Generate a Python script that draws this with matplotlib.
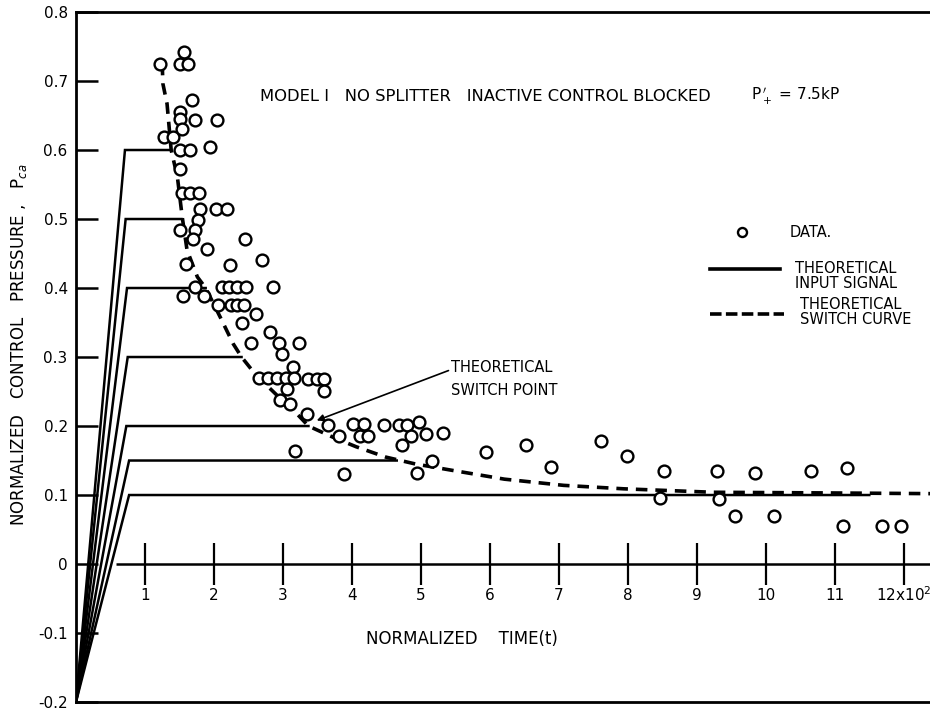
import matplotlib

matplotlib.use("Agg")
import matplotlib.pyplot as plt

plt.rcParams["font.family"] = ["DejaVu Sans"]

# measured data points (normalized time x100, normalized control pressure)
DATA_T = [
    1.22, 1.56, 1.51, 1.63, 1.68, 1.51, 1.51, 1.73, 2.04, 1.27, 1.41, 1.53,
    1.51, 1.65, 1.94, 1.51, 1.53, 1.65, 1.79, 1.80, 2.03, 2.19, 1.77, 1.51,
    1.73, 1.70, 1.90, 2.45, 1.60, 2.23, 2.69, 1.55, 1.73, 1.86, 2.11, 2.22,
    2.34, 2.47, 2.85, 2.06, 2.24, 2.33, 2.43, 2.40, 2.61, 2.81, 2.54, 2.95,
    2.98, 3.23, 3.15, 2.65, 2.79, 2.91, 3.05, 3.16, 3.37, 3.49, 3.60, 3.60,
    3.06, 2.96, 3.10, 3.35, 3.66, 3.82, 4.02, 4.17, 4.12, 4.24, 4.46, 4.68,
    4.80, 4.97, 4.85, 4.73, 5.08, 5.32, 3.18, 3.88, 4.94, 5.16, 5.94, 6.53,
    6.89, 7.61, 7.99, 8.52, 8.47, 9.29, 9.32, 9.84, 9.56, 10.12, 10.65, 11.17,
    11.12, 11.69, 11.96,
]
DATA_P = [
    0.725, 0.742, 0.725, 0.725, 0.673, 0.655, 0.645, 0.644, 0.644, 0.619, 0.619, 0.631,
    0.600, 0.600, 0.605, 0.573, 0.538, 0.538, 0.538, 0.514, 0.514, 0.514, 0.498, 0.484,
    0.484, 0.471, 0.457, 0.471, 0.435, 0.433, 0.440, 0.389, 0.402, 0.389, 0.402, 0.402,
    0.402, 0.402, 0.402, 0.375, 0.376, 0.376, 0.376, 0.350, 0.363, 0.336, 0.320, 0.321,
    0.305, 0.321, 0.286, 0.270, 0.270, 0.270, 0.270, 0.270, 0.268, 0.268, 0.268, 0.251,
    0.254, 0.237, 0.232, 0.217, 0.202, 0.186, 0.203, 0.203, 0.186, 0.186, 0.202, 0.202,
    0.202, 0.206, 0.186, 0.172, 0.189, 0.190, 0.164, 0.131, 0.132, 0.149, 0.162, 0.173,
    0.140, 0.178, 0.157, 0.135, 0.096, 0.135, 0.094, 0.132, 0.070, 0.070, 0.135, 0.139,
    0.055, 0.055, 0.055,
]

# theoretical input signals: ramp from (0, -0.2) to corner, then flat to the switch curve
SIGNAL_LEVELS = [0.6, 0.5, 0.4, 0.3, 0.2, 0.15, 0.1]
SIGNAL_CORNER_T = [0.71, 0.72, 0.74, 0.75, 0.73, 0.77, 0.77]
SIGNAL_END_T = [1.36, 1.53, 1.88, 2.40, 3.37, 4.65, 11.5]
SIGNAL_START = (0.0, -0.2)

# theoretical switch curve
SWITCH_T = [1.25, 1.26, 1.32, 1.38, 1.47, 1.54, 1.61, 1.76, 1.88, 2.09, 2.28, 2.40,
            2.60, 2.94, 3.20, 3.37, 3.72, 4.06, 4.49, 4.92, 5.44, 6.21, 7.07, 7.94,
            9.23, 10.95, 12.4]
SWITCH_P = [0.725, 0.696, 0.667, 0.600, 0.561, 0.503, 0.455, 0.416, 0.400, 0.358, 0.319, 0.300,
            0.275, 0.242, 0.218, 0.200, 0.184, 0.170, 0.155, 0.145, 0.136, 0.123, 0.114, 0.109,
            0.104, 0.103, 0.102]

Y_TICKS = [-0.2, -0.1, 0, 0.1, 0.2, 0.3, 0.4, 0.5, 0.6, 0.7, 0.8]
Y_TICK_LABELS = ["-0.2", "-0.1", "0", "0.1", "0.2", "0.3", "0.4", "0.5", "0.6", "0.7", "0.8"]
X_TICKS = [1, 2, 3, 4, 5, 6, 7, 8, 9, 10, 11, 12]
X_TICK_LABELS = ["1", "2", "3", "4", "5", "6", "7", "8", "9", "10", "11", "12x10$^2$"]

fig = plt.figure(figsize=(9.3, 7.19), dpi=100)
ax = fig.add_axes([0.0817, 0.0236, 0.9183, 0.9597])
ax.set_xlim(0, 12.38)
ax.set_ylim(-0.2, 0.8)

for spine in ("left", "top", "bottom"):
    ax.spines[spine].set_linewidth(2.0)
ax.spines["right"].set_visible(False)

ax.set_yticks(Y_TICKS)
ax.set_yticklabels(Y_TICK_LABELS, fontsize=11)
ax.tick_params(axis="y", direction="in", length=16, width=1.8, pad=6)
ax.set_xticks([])

# zero line with its own tick crosses and labels
ax.hlines(0, 0.58, 12.38, color="black", linewidth=1.8)
ax.vlines(X_TICKS, -0.03, 0.03, color="black", linewidth=1.6)
for t, lab in zip(X_TICKS, X_TICK_LABELS):
    ax.text(t, -0.045, lab, ha="center", va="center", fontsize=11)
ax.text(5.6, -0.108, "NORMALIZED    TIME(t)", ha="center", va="center", fontsize=12)

# input signals
for level, corner, end in zip(SIGNAL_LEVELS, SIGNAL_CORNER_T, SIGNAL_END_T):
    ax.plot([SIGNAL_START[0], corner, end], [SIGNAL_START[1], level, level],
            color="black", linewidth=1.8, solid_joinstyle="miter")

# switch curve
ax.plot(SWITCH_T, SWITCH_P, color="black", linewidth=2.6, linestyle=(0, (3.2, 2.2)))

# data
ax.plot(DATA_T, DATA_P, linestyle="none", marker="o", markersize=8.5,
        markerfacecolor="white", markeredgecolor="black", markeredgewidth=1.7)

# annotations
ax.text(2.67, 0.677, "MODEL I   NO SPLITTER   INACTIVE CONTROL BLOCKED",
        ha="left", va="center", fontsize=11.8)
ax.text(9.78, 0.677, "P$_+^{\\,\\prime}$ = 7.5kP", ha="left", va="center", fontsize=11)

ax.annotate("THEORETICAL\nSWITCH POINT", xy=(3.49, 0.208), xytext=(5.44, 0.268),
            ha="left", va="center", fontsize=10.5, linespacing=1.7,
            arrowprops=dict(arrowstyle="-|>", color="black", linewidth=1.2,
                            mutation_scale=10, shrinkA=0, shrinkB=0,
                            relpos=(0.0, 0.75)))

# hand-drawn legend
ax.plot([9.65], [0.481], linestyle="none", marker="o", markersize=6.5,
        markerfacecolor="white", markeredgecolor="black", markeredgewidth=1.7)
ax.text(10.35, 0.481, "DATA.", ha="left", va="center", fontsize=10.5)
ax.plot([9.19, 10.2], [0.428, 0.428], color="black", linewidth=2.6)
ax.text(10.42, 0.418, "THEORETICAL\nINPUT SIGNAL", ha="left", va="center",
        fontsize=10.5, linespacing=1.0)
ax.plot([9.19, 10.27], [0.363, 0.363], color="black", linewidth=2.6,
        linestyle=(0, (3.2, 1.2)))
ax.text(10.49, 0.365, "THEORETICAL\nSWITCH CURVE", ha="left", va="center",
        fontsize=10.5, linespacing=1.0)

fig.text(0.02, 0.52, "NORMALIZED   CONTROL   PRESSURE ,   P$_{ca}$",
         rotation=90, ha="center", va="center", fontsize=12)

fig.savefig("out.png", dpi=100)
